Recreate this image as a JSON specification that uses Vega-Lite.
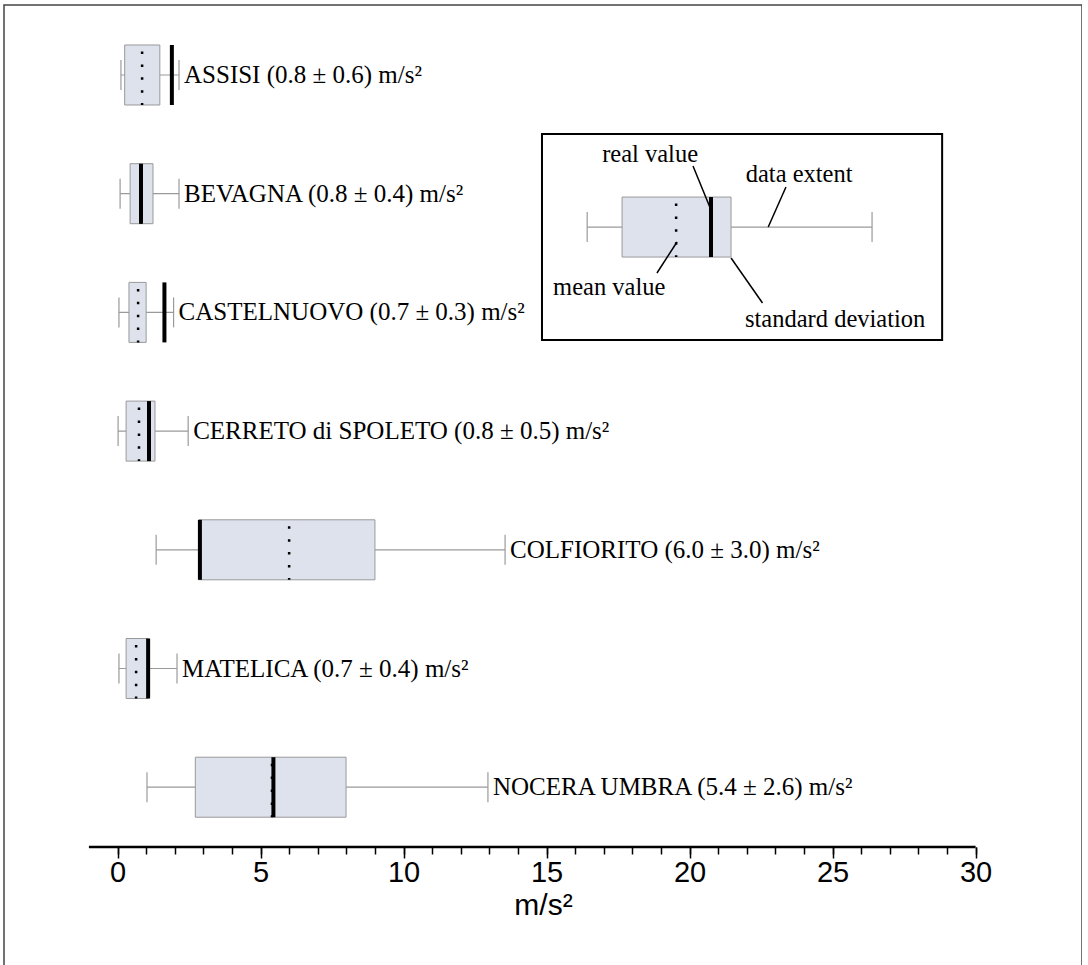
{
  "$schema": "https://vega.github.io/schema/vega-lite/v6.json",
  "width": 1078,
  "height": 970,
  "autosize": {"type": "none"},
  "padding": {"left": 4, "top": 5, "right": 0, "bottom": 0},
  "background": "white",
  "config": {"view": {"stroke": "#444", "strokeWidth": 1.5}, "font": "Liberation Serif"},
  "datasets": {
    "stations": [
      {"station": "ASSISI", "row": 0, "min": 0.12, "lo": 0.25, "hi": 1.48, "mean": 0.86, "real": 1.9, "max": 2.15, "label": "ASSISI (0.8 ± 0.6) m/s²"},
      {"station": "BEVAGNA", "row": 1, "min": 0.09, "lo": 0.44, "hi": 1.24, "mean": 0.82, "real": 0.82, "max": 2.15, "label": "BEVAGNA (0.8 ± 0.4) m/s²"},
      {"station": "CASTELNUOVO", "row": 2, "min": 0.05, "lo": 0.4, "hi": 1.0, "mean": 0.72, "real": 1.64, "max": 1.96, "label": "CASTELNUOVO (0.7 ± 0.3) m/s²"},
      {"station": "CERRETO di SPOLETO", "row": 3, "min": 0.02, "lo": 0.3, "hi": 1.31, "mean": 0.75, "real": 1.1, "max": 2.47, "label": "CERRETO di SPOLETO (0.8 ± 0.5) m/s²"},
      {"station": "COLFIORITO", "row": 4, "min": 1.35, "lo": 2.85, "hi": 9.0, "mean": 6.0, "real": 2.88, "max": 13.55, "label": "COLFIORITO (6.0 ± 3.0) m/s²"},
      {"station": "MATELICA", "row": 5, "min": 0.05, "lo": 0.3, "hi": 1.07, "mean": 0.65, "real": 1.07, "max": 2.08, "label": "MATELICA (0.7 ± 0.4) m/s²"},
      {"station": "NOCERA UMBRA", "row": 6, "min": 1.03, "lo": 2.72, "hi": 7.99, "mean": 5.4, "real": 5.45, "max": 12.95, "label": "NOCERA UMBRA (5.4 ± 2.6) m/s²"},
      {"station": "legend", "row": 1.281, "min": 16.42, "lo": 17.64, "hi": 21.45, "mean": 19.53, "real": 20.75, "max": 26.38, "label": ""}
    ],
    "inset": [{"x": 14.84, "x2": 28.83, "y": 0.497, "y2": 2.233}],
    "callouts": [
      {"text": "real value", "tx": 18.62, "ty": 0.674, "ax": 20.12, "ay": 0.767, "bx": 20.75, "by": 1.137},
      {"text": "data extent", "tx": 23.83, "ty": 0.842, "ax": 23.37, "ay": 0.944, "bx": 22.75, "by": 1.281},
      {"text": "mean value", "tx": 17.19, "ty": 1.794, "ax": 18.86, "ay": 1.668, "bx": 19.56, "by": 1.407},
      {"text": "standard deviation", "tx": 25.09, "ty": 2.064, "ax": 21.45, "ay": 1.542, "bx": 22.55, "by": 1.921}
    ],
    "axisline": [{"from": -1, "to": 30, "row": 6.504}]
  },
  "layer": [
    {
      "data": {"name": "inset"},
      "mark": {"type": "rect", "fill": "white", "stroke": "black", "strokeWidth": 2},
      "encoding": {
        "x": {"field": "x", "type": "quantitative", "scale": {"domain": [-3.969, 33.72], "nice": false, "zero": false}, "axis": null},
        "x2": {"field": "x2"},
        "y": {"field": "y", "type": "quantitative", "scale": {"domain": [-0.5897, 7.582], "nice": false, "zero": false, "reverse": true}, "axis": null},
        "y2": {"field": "y2"}
      }
    },
    {
      "data": {"name": "axisline"},
      "mark": {"type": "rule", "color": "black", "strokeWidth": 2.5},
      "encoding": {
        "x": {"field": "from", "type": "quantitative", "scale": {"domain": [-3.969, 33.72], "nice": false, "zero": false},
          "axis": {"values": [0, 5, 10, 15, 20, 25, 30], "orient": "bottom", "offset": -128, "domain": false, "grid": false,
            "tickSize": 11, "tickWidth": 1.5, "tickColor": "black", "labelFont": "Liberation Sans", "labelFontSize": 29,
            "labelColor": "black", "labelPadding": 0, "labelFlush": false, "labelOverlap": false,
            "title": "m/s²", "titleFont": "Liberation Sans", "titleFontSize": 30, "titleFontWeight": "normal", "titleColor": "black", "titlePadding": 3}},
        "x2": {"field": "to"},
        "y": {"field": "row", "type": "quantitative", "scale": {"domain": [-0.5897, 7.582], "nice": false, "zero": false, "reverse": true}, "axis": null}
      }
    },
    {
      "data": {"name": "stations"},
      "mark": {"type": "rule", "color": "#9a9a9a", "strokeWidth": 1.2},
      "encoding": {
        "x": {"field": "min", "type": "quantitative", "scale": {"domain": [-3.969, 33.72], "nice": false, "zero": false},
          "axis": {"values": [0,1,2,3,4,5,6,7,8,9,10,11,12,13,14,15,16,17,18,19,20,21,22,23,24,25,26,27,28,29,30], "orient": "bottom", "offset": -128,
            "domain": false, "grid": false, "labels": false, "tickSize": 7, "tickWidth": 1.5, "tickColor": "black", "title": null}},
        "x2": {"field": "max"},
        "y": {"field": "row", "type": "quantitative", "scale": {"domain": [-0.5897, 7.582], "nice": false, "zero": false, "reverse": true}, "axis": null}
      }
    },
    {
      "data": {"name": "stations"},
      "mark": {"type": "rule", "color": "#9a9a9a", "strokeWidth": 1.2, "yOffset": -15, "y2Offset": 15},
      "encoding": {
        "x": {"field": "min", "type": "quantitative", "axis": null},
        "y": {"field": "row", "type": "quantitative", "axis": null},
        "y2": {"field": "row"}
      }
    },
    {
      "data": {"name": "stations"},
      "mark": {"type": "rule", "color": "#9a9a9a", "strokeWidth": 1.2, "yOffset": -15, "y2Offset": 15},
      "encoding": {
        "x": {"field": "max", "type": "quantitative", "axis": null},
        "y": {"field": "row", "type": "quantitative", "axis": null},
        "y2": {"field": "row"}
      }
    },
    {
      "data": {"name": "stations"},
      "mark": {"type": "rect", "fill": "#dde2ed", "stroke": "#999999", "strokeWidth": 1, "yOffset": -30, "y2Offset": 30},
      "encoding": {
        "x": {"field": "lo", "type": "quantitative", "axis": null},
        "x2": {"field": "hi"},
        "y": {"field": "row", "type": "quantitative", "axis": null},
        "y2": {"field": "row"}
      }
    },
    {
      "data": {"name": "stations"},
      "mark": {"type": "rule", "color": "black", "strokeWidth": 2.5, "strokeCap": "butt", "strokeDash": [2.5, 10.4], "strokeDashOffset": 6.4, "yOffset": -30, "y2Offset": 30},
      "encoding": {
        "x": {"field": "mean", "type": "quantitative", "axis": null},
        "y": {"field": "row", "type": "quantitative", "axis": null},
        "y2": {"field": "row"}
      }
    },
    {
      "data": {"name": "stations"},
      "mark": {"type": "rule", "color": "black", "strokeWidth": 4, "strokeCap": "butt", "yOffset": -30, "y2Offset": 30},
      "encoding": {
        "x": {"field": "real", "type": "quantitative", "axis": null},
        "y": {"field": "row", "type": "quantitative", "axis": null},
        "y2": {"field": "row"}
      }
    },
    {
      "data": {"name": "stations"},
      "mark": {"type": "text", "align": "left", "baseline": "middle", "dx": 5, "font": "Liberation Serif", "fontSize": 25, "color": "black"},
      "encoding": {
        "x": {"field": "max", "type": "quantitative", "axis": null},
        "y": {"field": "row", "type": "quantitative", "axis": null},
        "text": {"field": "label"}
      }
    },
    {
      "data": {"name": "callouts"},
      "mark": {"type": "rule", "color": "black", "strokeWidth": 1.5},
      "encoding": {
        "x": {"field": "ax", "type": "quantitative", "axis": null},
        "x2": {"field": "bx"},
        "y": {"field": "ay", "type": "quantitative", "axis": null},
        "y2": {"field": "by"}
      }
    },
    {
      "data": {"name": "callouts"},
      "mark": {"type": "text", "align": "center", "baseline": "middle", "font": "Liberation Serif", "fontSize": 24.5, "color": "black"},
      "encoding": {
        "x": {"field": "tx", "type": "quantitative", "axis": null},
        "y": {"field": "ty", "type": "quantitative", "axis": null},
        "text": {"field": "text"}
      }
    }
  ],
  "resolve": {"axis": {"x": "independent"}}
}
